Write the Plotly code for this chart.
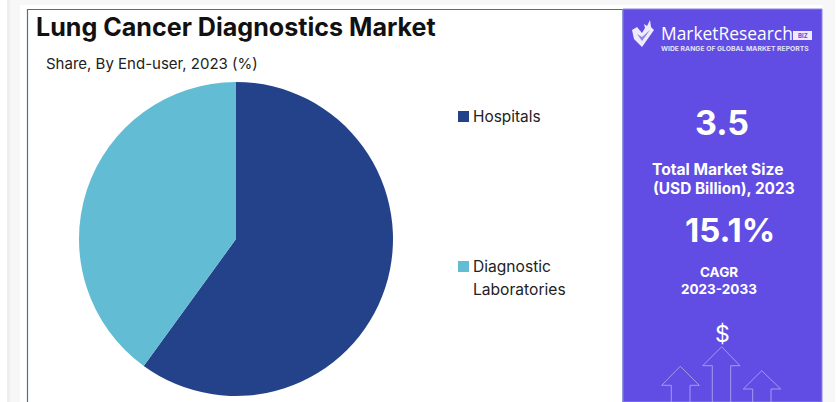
import plotly.graph_objects as go

W, H = 838, 402
categories = ["Hospitals", "Diagnostic Laboratories"]
shares = [60, 40]
colors = ["#23428A", "#62BCD4"]
title = "Lung Cancer Diagnostics Market"
subtitle = "Share, By End-user, 2023 (%)"

def X(x): return x / W
def Y(y): return 1 - y / H

def rect(x0, y0, x1, y1, fill, line=None, lw=0):
    return dict(type="rect", xref="paper", yref="paper", x0=X(x0), x1=X(x1), y0=Y(y1), y1=Y(y0),
                fillcolor=fill, line=dict(color=line, width=lw) if line else dict(width=0), layer="below")

def poly(pts, fill=None, line=None, lw=1):
    d = "M" + " L".join(f"{X(a):.5f},{Y(b):.5f}" for a, b in pts)
    if fill:
        d += " Z"
    return dict(type="path", xref="paper", yref="paper", path=d, fillcolor=fill or "rgba(0,0,0,0)",
                line=dict(color=line, width=lw) if line else dict(width=0), layer="above")

def text(x, y, s, size, color="#1c1c1c", anchor="left", family="Inter", bold=False):
    return dict(xref="paper", yref="paper", x=X(x), y=Y(y), text=f"<b>{s}</b>" if bold else s, showarrow=False,
                xanchor=anchor, yanchor="middle", align="center" if anchor == "center" else "left",
                font=dict(size=size, color=color, family=family), borderpad=0, borderwidth=0)

shapes = [
    rect(0, 0, 838, 402, "#FFFFFF"),
    rect(7, 0, 835, 402, "#F7F7F7"),
    rect(7, 0, 10, 402, "#EEEEEE"),
    rect(20, 5, 822, 402, "#FFFFFF"),
    rect(27.5, 9.5, 623, 410, "#FFFFFF", "#4A6FA5", 1.2),
    rect(623, 9, 822, 402, "#614DE4", "#8E84EA", 1),
    rect(458, 111, 469, 122, colors[0]),
    rect(458, 261, 469, 272, colors[1]),
    # arrows
    poly([(671.3, 403), (671.3, 385.3), (661.7, 385.3), (680.3, 366.3), (699.3, 385.3), (690, 385.3), (690, 403)], line="#A49BEF", lw=1),
    poly([(712.3, 403), (712.3, 365.7), (702.7, 365.7), (721.7, 346.7), (740, 365.7), (730.7, 365.7), (730.7, 403)], line="#A49BEF", lw=1),
    poly([(752.7, 403), (752.7, 389), (743.3, 389), (761.7, 370.7), (780.7, 389), (771, 389), (771, 403)], line="#A49BEF", lw=1),
    # logo mark
    poly([(632, 30), (637, 27), (642, 33), (645, 28), (644, 24), (647, 26), (650, 20), (651, 27), (654, 30), (642, 47), (634, 39)], fill="#EDEBFC"),
    poly([(637, 34), (642, 41), (650, 30), (642, 37)], fill="#8E84EA"),
    rect(793, 31, 812, 40, "#EDEBFC"),
]

W_ = "#FFFFFF"
annotations = [
    text(36, 27, title, 25.1, "#111111", bold=True),
    text(46, 64, subtitle, 15, "#222222"),
    text(473, 116, "Hospitals", 15.4, "#222222"),
    text(473, 266, "Diagnostic", 15.6, "#222222"),
    text(473, 289, "Laboratories", 15.6, "#222222"),
    text(661, 32.5, "MarketResearch", 17.4, W_, family="Open Sans"),
    text(802.5, 35.5, "BIZ", 6, "#614DE4", "center", bold=True),
    text(661, 49, "WIDE RANGE OF GLOBAL MARKET REPORTS", 6.8, "#E4E1FA", bold=True),
    text(721.5, 122, "3.5", 34, W_, "center", bold=True),
    text(717.5, 170, "Total Market Size", 15.6, W_, "center", bold=True),
    text(724, 188, "(USD Billion), 2023", 15.4, W_, "center", bold=True),
    text(729.5, 230, "15.1%", 33, W_, "center", bold=True),
    text(719, 272, "CAGR", 13.5, W_, "center", bold=True),
    text(719, 289, "2023-2033", 13.5, W_, "center", bold=True),
    text(722, 334, "$", 23, W_, "center"),
]

fig = go.Figure(go.Pie(
    labels=categories, values=shares, sort=False, direction="clockwise", rotation=0,
    marker=dict(colors=colors, line=dict(width=0)), textinfo="none", hoverinfo="label+percent",
    domain=dict(x=[X(79), X(393)], y=[Y(396), Y(82)]), showlegend=False,
))
fig.update_layout(width=W, height=H, margin=dict(l=0, r=0, t=0, b=0), paper_bgcolor="#FFFFFF",
                  shapes=shapes, annotations=annotations)
fig.write_html("out.html", config=dict(displayModeBar=False),
               post_script="document.body.style.margin='0';document.body.style.overflow='hidden';")
